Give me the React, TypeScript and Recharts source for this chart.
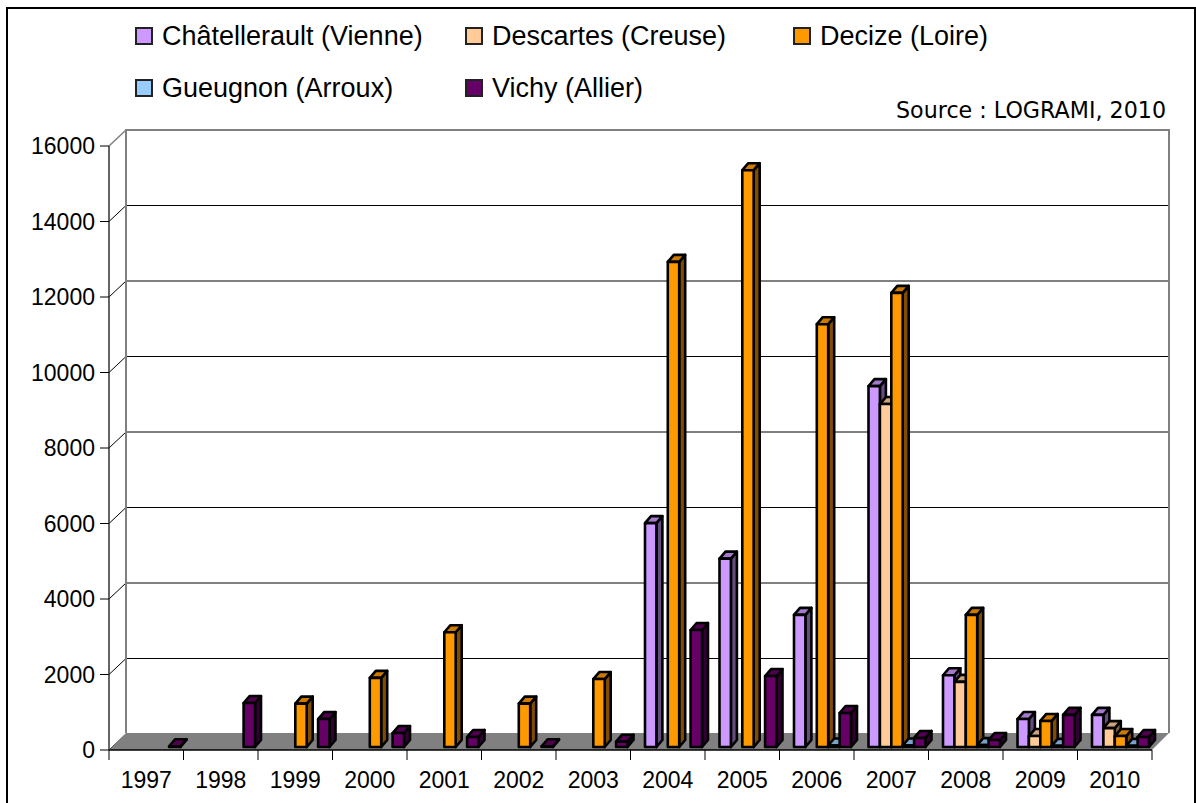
import { Bar, BarChart, CartesianGrid, Legend, ReferenceArea, XAxis, YAxis } from "recharts";

const years = ["1997", "1998", "1999", "2000", "2001", "2002", "2003", "2004", "2005", "2006", "2007", "2008", "2009", "2010"];
const chatellerault = [null, null, null, null, null, null, null, 5930, 4990, 3500, 9560, 1900, 740, 850];
const descartes = [null, null, null, null, null, null, null, null, null, null, 9085, 1725, 290, 500];
const decize = [null, null, 1150, 1830, 3040, 1150, 1800, 12850, 15280, 11200, 12030, 3500, 690, 290];
const gueugnon = [null, null, null, null, null, null, null, null, null, 40, 40, 50, 30, 30];
const vichy = [20, 1165, 740, 370, 265, 20, 140, 3100, 1880, 900, 240, 185, 850, 265];
const yTicks = [0, 2000, 4000, 6000, 8000, 10000, 12000, 14000, 16000];

const seriesList = [
  { key: "chatellerault", name: "Châtellerault (Vienne)", values: chatellerault, fill: "#cc99ff", top: "#a37acc", side: "#664d80" },
  { key: "descartes", name: "Descartes (Creuse)", values: descartes, fill: "#ffcc99", top: "#cca37a", side: "#80664d" },
  { key: "decize", name: "Decize (Loire)", values: decize, fill: "#ff9900", top: "#cc7a00", side: "#804d00" },
  { key: "gueugnon", name: "Gueugnon (Arroux)", values: gueugnon, fill: "#99ccff", top: "#7aa3cc", side: "#4d6680" },
  { key: "vichy", name: "Vichy (Allier)", values: vichy, fill: "#660066", top: "#520052", side: "#330033" },
];

const chartData = years.map((year, i) => {
  const row: Record<string, string | number | null> = { year };
  seriesList.forEach((s) => {
    row[s.key] = s.values[i];
  });
  return row;
});

const FONT = "'Liberation Sans', Arial, sans-serif";
const DEPTH = 17; // offset of the back wall
const BAND = (1152 - 109) / years.length;

function Bar3D(props: any) {
  const { x, y, width, height, fill, top, side } = props;
  if (x == null || y == null) return null;
  const left = x + 5.5;
  const right = left + width;
  const up = y - 3;
  const down = up + height;
  const dx = 6;
  const dy = 7;
  const line = { stroke: "#000", strokeWidth: 2.6, strokeLinejoin: "round" as const };
  return (
    <g>
      <polygon points={`${right},${up} ${right + dx},${up - dy} ${right + dx},${down - dy} ${right},${down}`} fill={side} {...line} />
      <polygon points={`${left},${up} ${left + dx},${up - dy} ${right + dx},${up - dy} ${right},${up}`} fill={top} {...line} />
      <rect x={left} y={up} width={width} height={height} fill={fill} {...line} />
    </g>
  );
}

function Walls(props: any) {
  const { x, y, width, height } = props;
  const bottom = y + height;
  const right = x + width;
  return (
    <g>
      <polygon
        points={`${x},${bottom} ${x + DEPTH},${bottom - DEPTH} ${right + DEPTH},${bottom - DEPTH} ${right},${bottom}`}
        fill="#808080"
      />
      <polyline
        points={`${x + DEPTH},${bottom - DEPTH} ${x + DEPTH},${y - DEPTH + 1} ${right + DEPTH},${y - DEPTH + 1} ${right + DEPTH},${bottom - DEPTH}`}
        fill="none"
        stroke="#808080"
        strokeWidth={2}
      />
      <line x1={x} y1={y} x2={x + DEPTH} y2={y - DEPTH + 1} stroke="#808080" strokeWidth={1.5} />
    </g>
  );
}

function GridLine(props: any) {
  const { x1, y1, x2 } = props;
  if (y1 < 150) return null;
  const back = y1 - DEPTH + 1;
  return (
    <g>
      <line x1={x1} y1={y1} x2={x1 + DEPTH} y2={back} stroke="#000" strokeWidth={1} />
      {y1 < 745 && <line x1={x1 + DEPTH} y1={back} x2={x2 + DEPTH} y2={back} stroke="#000" strokeWidth={1} />}
    </g>
  );
}

function YearTick(props: any) {
  const { x, y, payload, index } = props;
  return (
    <g>
      <line x1={x - BAND / 2} y1={y} x2={x - BAND / 2} y2={y + 10} stroke="#000" />
      {index === years.length - 1 && <line x1={x + BAND / 2} y1={y} x2={x + BAND / 2} y2={y + 10} stroke="#000" />}
      <text x={x} y={y + 38} textAnchor="middle" fontFamily={FONT} fontSize={23} fill="#000">
        {payload.value}
      </text>
    </g>
  );
}

function ChartLegend() {
  const colLeft = [135, 465, 793];
  const rowTop = [27, 79];
  return (
    <div style={{ position: "relative", width: 1196, height: 110 }}>
      {seriesList.map((s, i) => (
        <div
          key={s.key}
          style={{
            position: "absolute",
            left: colLeft[i % 3],
            top: rowTop[Math.floor(i / 3)],
            height: 18,
            display: "flex",
            alignItems: "center",
            fontFamily: FONT,
            fontSize: 27,
            color: "#000",
            whiteSpace: "nowrap",
          }}
        >
          <span style={{ width: 14, height: 14, background: s.fill, border: "2px solid #222", marginRight: 9 }} />
          {s.name}
        </div>
      ))}
    </div>
  );
}

export default function App() {
  return (
    <div style={{ position: "absolute", left: 0, top: 0, width: 1196, height: 803, overflow: "hidden", background: "#fff" }}>
      <div style={{ position: "absolute", left: 6, top: 7, width: 1186, height: 830, border: "2px solid #000" }} />
      <div style={{ position: "absolute", left: 0, top: 0 }}>
        <BarChart
          width={1196}
          height={803}
          data={chartData}
          margin={{ top: 146, right: 44, bottom: 0, left: 0 }}
          barSize={11.4}
          barGap={0}
        >
          <ReferenceArea y1={0} y2={16000} shape={<Walls />} fill="none" stroke="none" />
          <CartesianGrid vertical={false} horizontal={(p: any) => <GridLine key={p.key ?? p.y1} {...p} />} />
          <XAxis
            dataKey="year"
            interval={0}
            height={53}
            tickSize={0}
            tickMargin={0}
            tick={<YearTick />}
            tickLine={false}
            axisLine={{ stroke: "#000", strokeWidth: 1.5 }}
          />
          <YAxis
            width={109}
            domain={[0, 16000]}
            ticks={yTicks}
            interval={0}
            tickSize={9}
            tickMargin={5}
            tick={{ fontFamily: FONT, fontSize: 23, fill: "#000" }}
            tickLine={{ stroke: "#000" }}
            axisLine={{ stroke: "#333", strokeWidth: 1.5 }}
          />
          <Legend
            layout="horizontal"
            verticalAlign="middle"
            content={<ChartLegend />}
            wrapperStyle={{ position: "absolute", left: 0, top: 0, width: 1196 }}
          />
          {seriesList.map((s) => (
            <Bar
              key={s.key}
              dataKey={s.key}
              name={s.name}
              fill={s.fill}
              isAnimationActive={false}
              shape={(p: any) => <Bar3D {...p} fill={s.fill} top={s.top} side={s.side} />}
            />
          ))}
          <text x={1166} y={118} textAnchor="end" fontFamily="'DejaVu Sans', sans-serif" fontSize={22.2} fill="#000">
            Source : LOGRAMI, 2010
          </text>
        </BarChart>
      </div>
    </div>
  );
}
